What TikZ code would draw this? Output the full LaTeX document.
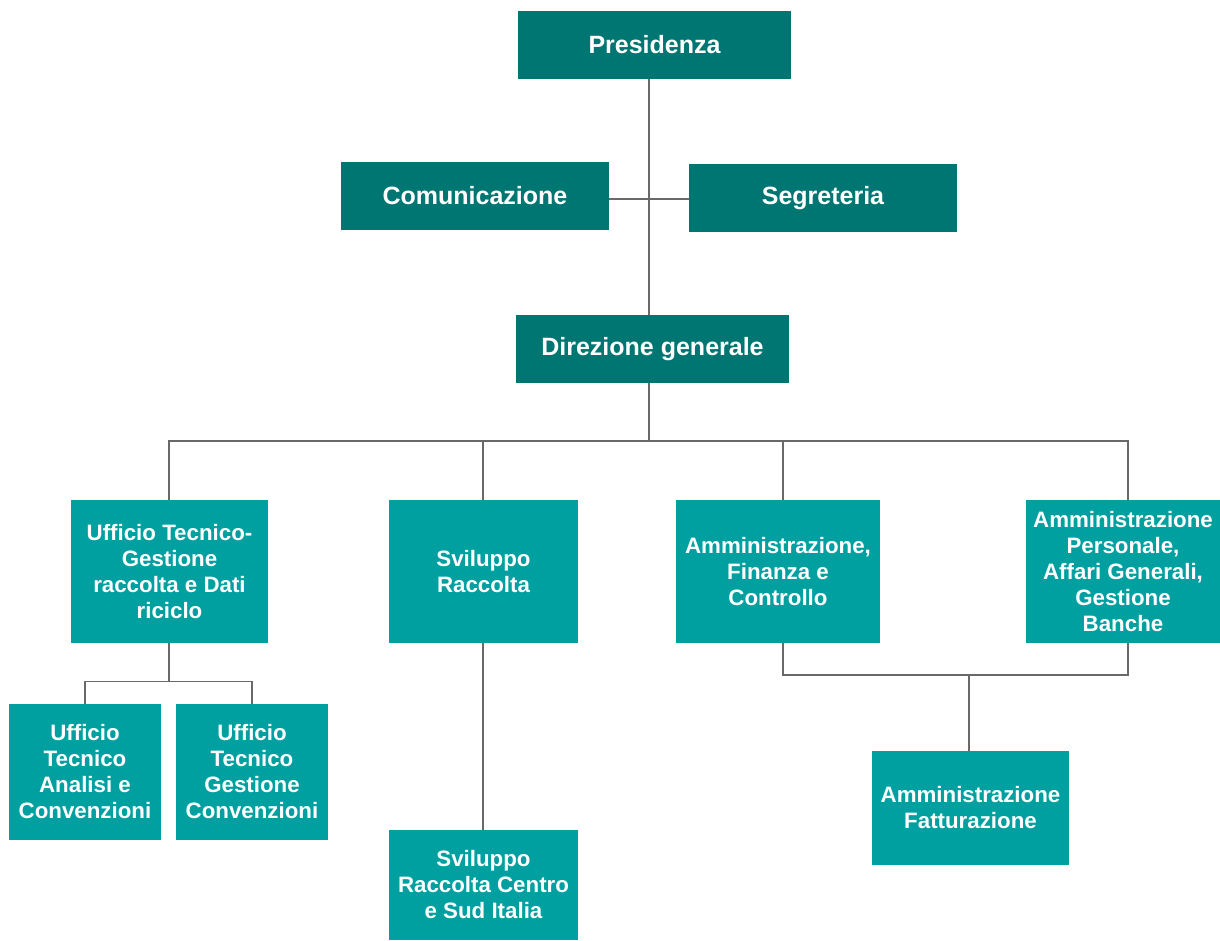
\documentclass[tikz,border=0pt]{standalone}
\usepackage{fontspec}
\setmainfont{Liberation Sans}
\definecolor{darkteal}{RGB}{0,118,114}
\definecolor{lightteal}{RGB}{0,160,160}
\definecolor{linegray}{RGB}{105,105,105}
\begin{document}
\begin{tikzpicture}[x=1pt,y=-1pt,
    head/.style={fill=darkteal, text=white, font=\bfseries\fontsize{25}{30}\selectfont,
        minimum width=270pt, minimum height=68pt, inner sep=0pt},
    unit/.style={fill=lightteal, text=white, font=\bfseries\fontsize{22.3}{26}\selectfont,
        align=center, inner sep=0pt},
    link/.style={draw=linegray, line width=1.2pt}]
        \useasboundingbox (0,0) rectangle (1220,940);

        % Top level
        \node[head, minimum width=273pt] (pres) at (654.5,45) {Presidenza};
        \node[head, minimum width=268pt] (com)  at (475,196) {Comunicazione};
        \node[head, minimum width=268pt] (seg)  at (823,198) {Segreteria};
        \node[head, minimum width=273pt] (dir)  at (652.5,349) {Direzione generale};

        % Offices
        \node[unit, minimum width=197pt, minimum height=143pt] (utg) at (169.5,571.5)
            {Ufficio Tecnico-\\Gestione\\raccolta e Dati\\riciclo};
        \node[unit, minimum width=189pt, minimum height=143pt] (svr) at (483.5,571.5)
            {Sviluppo\\Raccolta};
        \node[unit, minimum width=204pt, minimum height=143pt] (afc) at (778,571.5)
            {Amministrazione,\\Finanza e\\Controllo};
        \node[unit, minimum width=194pt, minimum height=143pt] (apg) at (1123,571.5)
            {Amministrazione\\Personale,\\Affari Generali,\\Gestione\\Banche};

        % Sub offices
        \node[unit, minimum width=152pt, minimum height=136pt] (uta) at (85,772)
            {Ufficio\\Tecnico\\Analisi e\\Convenzioni};
        \node[unit, minimum width=152pt, minimum height=136pt] (utc) at (252,772)
            {Ufficio\\Tecnico\\Gestione\\Convenzioni};
        \node[unit, minimum width=189pt, minimum height=110pt] (svc) at (483.5,885)
            {Sviluppo\\Raccolta Centro\\e Sud Italia};
        \node[unit, minimum width=197pt, minimum height=114pt] (fat) at (970.5,808)
            {Amministrazione\\Fatturazione};

        % Links
        \coordinate (trunk) at (649,79);
        \coordinate (side) at (649,199);
        \coordinate (bus) at (649,441);
        \coordinate (rbus) at (969,675);
        \draw[link] (pres.south -| trunk) -- (dir.north -| trunk);
        \draw[link] (com.east |- side) -- (seg.west |- side);
        \draw[link] (dir.south -| bus) -- (bus);
        \draw[link] ([xshift=-0.5pt]utg.north) |- (bus) -| ([xshift=5pt]apg.north);
        \draw[link] ([xshift=-0.5pt]svr.north) -- ++(0,-59);
        \draw[link] ([xshift=5pt]afc.north) -- ++(0,-59);

        \draw[link] ([xshift=-0.5pt]utg.south) -- ++(0,38) coordinate (lbus);
        \draw[link] (uta.north) |- (lbus) -| (utc.north);
        \draw[link] ([xshift=-0.5pt]svr.south) -- ([xshift=-0.5pt]svc.north);

        \draw[link] ([xshift=5pt]afc.south) |- (rbus) -| ([xshift=5pt]apg.south);
        \draw[link] (rbus) -- (rbus |- fat.north);
\end{tikzpicture}
\end{document}
